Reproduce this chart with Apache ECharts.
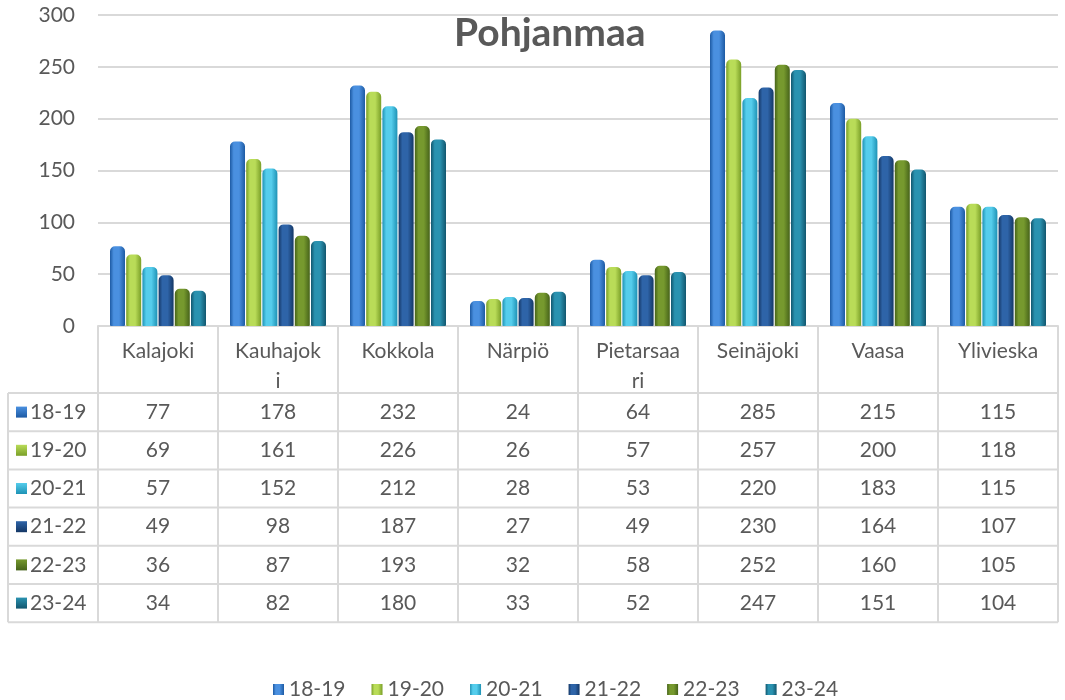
<!DOCTYPE html>
<html>
<head>
<meta charset="utf-8">
<script src="https://cdn.jsdelivr.net/npm/echarts@6/dist/echarts.min.js"></script>
<style>
  html, body { margin: 0; padding: 0; background: #fff; }
  #main { width: 1065px; height: 700px; }
</style>
</head>
<body>
<div id="main"></div>
<script>
// data
var categories = ['Kalajoki', 'Kauhajoki', 'Kokkola', 'Närpiö', 'Pietarsaari', 'Seinäjoki', 'Vaasa', 'Ylivieska'];
var seasons = ['18-19', '19-20', '20-21', '21-22', '22-23', '23-24'];
var v1819 = [77, 178, 232, 24, 64, 285, 215, 115];
var v1920 = [69, 161, 226, 26, 57, 257, 200, 118];
var v2021 = [57, 152, 212, 28, 53, 220, 183, 115];
var v2122 = [49, 98, 187, 27, 49, 230, 164, 107];
var v2223 = [36, 87, 193, 32, 58, 252, 160, 105];
var v2324 = [34, 82, 180, 33, 52, 247, 151, 104];
var yTicks = [0, 50, 100, 150, 200, 250, 300];

var values = [v1819, v1920, v2021, v2122, v2223, v2324];

// where the table header wraps the long names (like the original cells)
var headerBreaks = { 'Kauhajoki': 8, 'Pietarsaari': 9 };

// colours: [light, dark] for the cylinder look
var colors = [
  ['#4a90e0', '#1d5aa3'],
  ['#b9dc58', '#7a9f28'],
  ['#55cdec', '#1e92b5'],
  ['#2e64a8', '#143765'],
  ['#76992e', '#46631a'],
  ['#2a92b0', '#12566e']
];

var textColor = '#595959';
var lineColor = '#d9d9d9';
var font = 'Lato';
var fs = 21;

// table geometry
var gridLeft = 98, gridRight = 7, axisY = 326;
var rowTop0 = 393, rowH = 38.2;
var tableLeft = 8;

var myChart = echarts.init(document.getElementById('main'));

var xAxes = [{
  type: 'category',
  data: categories,
  position: 'bottom',
  axisLine: { lineStyle: { color: lineColor, width: 2 } },
  axisTick: { show: true, length: rowTop0 + rowH * seasons.length - axisY, lineStyle: { color: lineColor, width: 2 } },
  axisLabel: {
    color: textColor, fontSize: fs, fontFamily: font,
    margin: 10, lineHeight: 30, verticalAlign: 'top', interval: 0,
    formatter: function(v) {
      var b = headerBreaks[v];
      return b ? v.slice(0, b) + '\n' + v.slice(b) : v;
    }
  }
}];

seasons.forEach(function(s, i) {
  xAxes.push({
    type: 'category',
    data: categories,
    position: 'bottom',
    offset: rowTop0 - axisY + i * rowH,
    axisLine: { show: false },
    axisTick: { show: false },
    axisLabel: {
      color: textColor, fontSize: fs, fontFamily: font,
      margin: rowH / 2, verticalAlign: 'middle', interval: 0,
      formatter: function(v, idx) { return String(values[i][idx]); }
    }
  });
});

var series = seasons.map(function(s, i) {
  return {
    name: s,
    type: 'bar',
    xAxisIndex: 0,
    data: values[i],
    barWidth: 15,
    barGap: '8%',
    itemStyle: {
      borderRadius: [5, 5, 1, 1],
      color: new echarts.graphic.LinearGradient(0, 0, 1, 0, [
        { offset: 0, color: colors[i][1] },
        { offset: 0.25, color: colors[i][0] },
        { offset: 0.6, color: colors[i][0] },
        { offset: 1, color: colors[i][1] }
      ])
    }
  };
});

var option = {
  backgroundColor: '#fff',
  animation: false,
  title: {
    text: 'Pohjanmaa',
    left: 449,
    top: 9,
    textStyle: { color: textColor, fontSize: 39, fontWeight: 'bold', fontFamily: font }
  },
  legend: {
    data: seasons,
    left: 268,
    top: 674,
    icon: 'rect',
    itemWidth: 11,
    itemHeight: 11,
    itemGap: 26,
    textStyle: { color: textColor, fontSize: fs, fontFamily: font }
  },
  grid: { left: gridLeft, right: gridRight, top: 15, bottom: 700 - axisY, containLabel: false },
  xAxis: xAxes,
  yAxis: {
    type: 'value',
    min: yTicks[0],
    max: yTicks[yTicks.length - 1],
    interval: 50,
    axisLine: { show: false },
    axisTick: { show: false },
    axisLabel: { color: textColor, fontSize: fs, fontFamily: font, margin: 23 },
    splitLine: { lineStyle: { color: lineColor, width: 2 } }
  },
  series: series
};

myChart.setOption(option);

// table borders and the row headers
var right = 1065 - gridRight;
var graphics = [];
for (var r = 0; r <= seasons.length; r++) {
  var y = rowTop0 + r * rowH;
  graphics.push({
    type: 'line',
    shape: { x1: tableLeft, y1: y, x2: right, y2: y },
    style: { stroke: lineColor, lineWidth: 2 }
  });
}
graphics.push({
  type: 'line',
  shape: { x1: tableLeft, y1: rowTop0, x2: tableLeft, y2: rowTop0 + rowH * seasons.length },
  style: { stroke: lineColor, lineWidth: 2 }
});
seasons.forEach(function(s, i) {
  var cy = rowTop0 + i * rowH + rowH / 2;
  graphics.push({
    type: 'rect',
    shape: { x: 16, y: cy - 5.5, width: 11, height: 11 },
    style: {
      fill: new echarts.graphic.LinearGradient(0, 0, 0, 1, [
        { offset: 0, color: colors[i][0] },
        { offset: 1, color: colors[i][1] }
      ])
    }
  });
  graphics.push({
    type: 'text',
    x: 30,
    y: cy,
    style: { text: s, fill: textColor, fontSize: fs, fontFamily: font, verticalAlign: 'middle' }
  });
});

myChart.setOption({ graphic: graphics });
</script>
</body>
</html>
